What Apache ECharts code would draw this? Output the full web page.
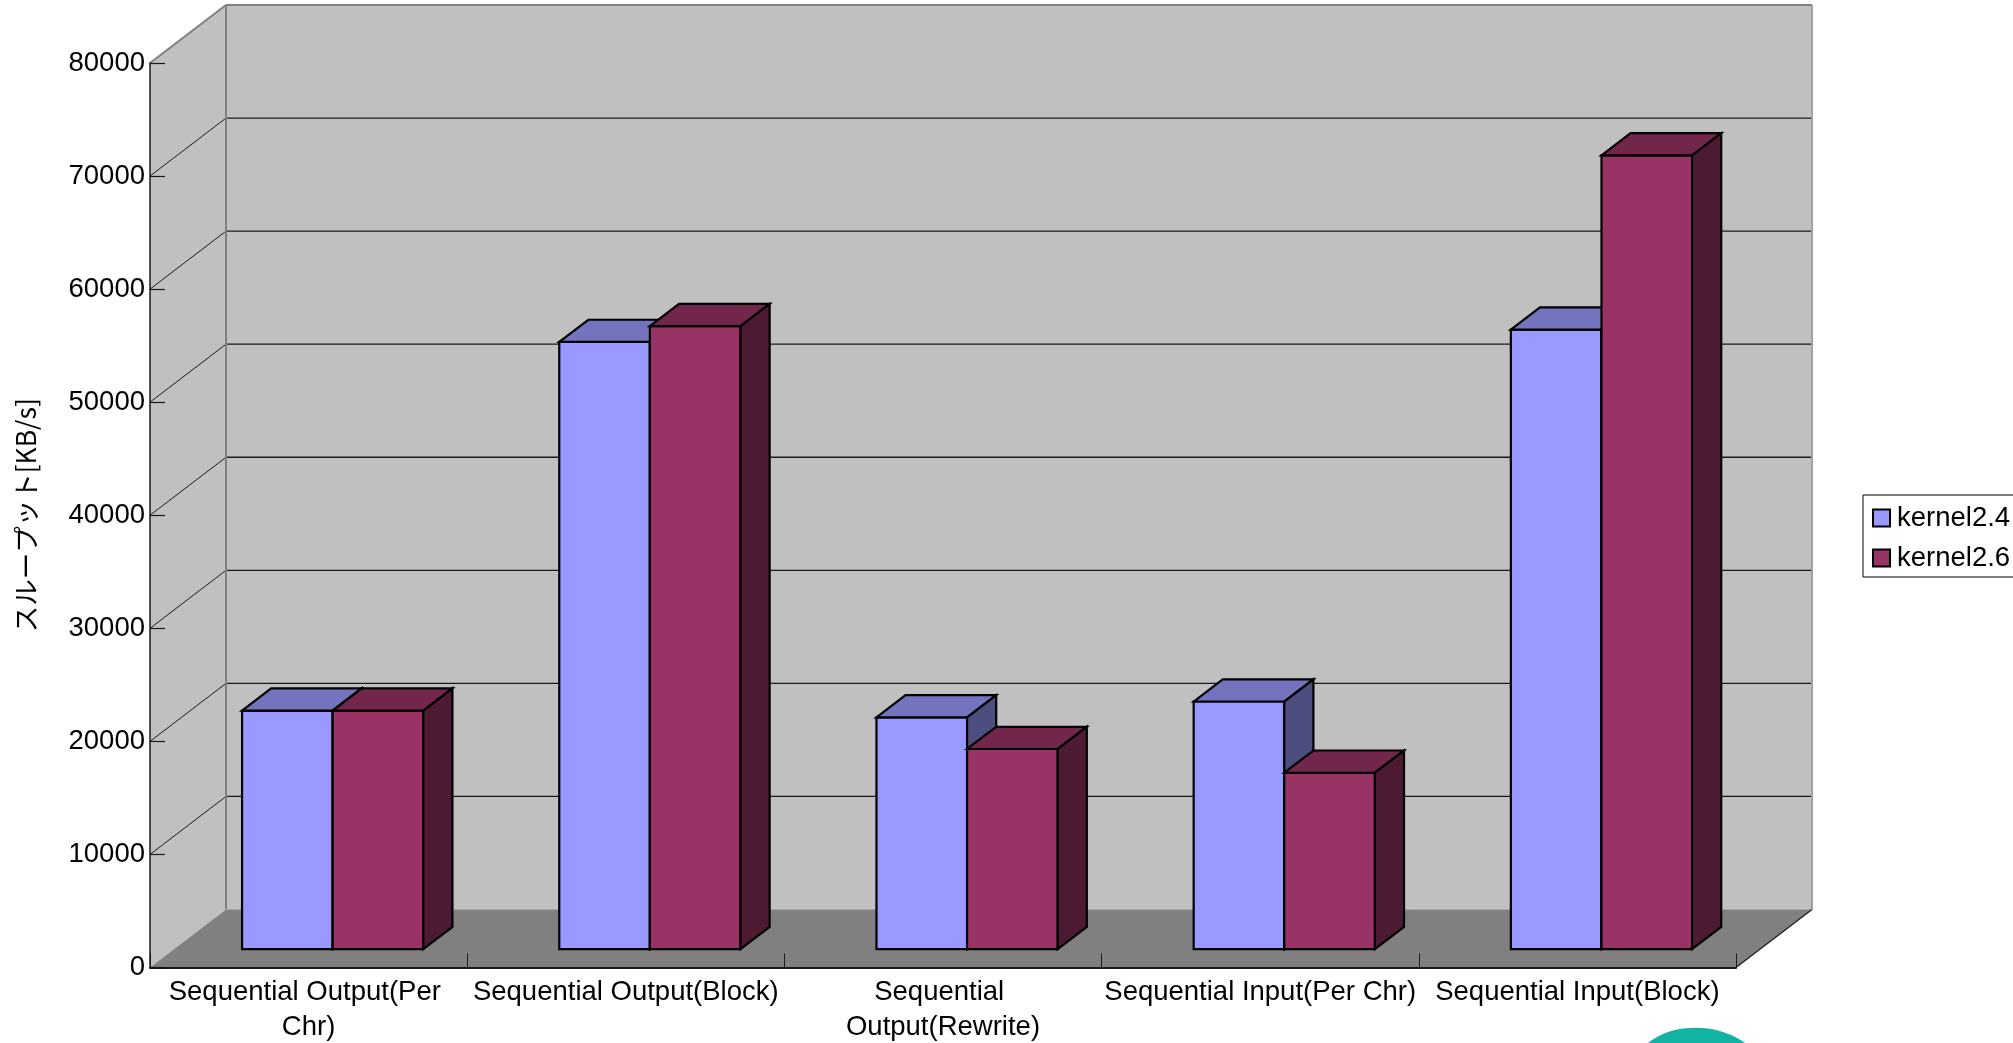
<!DOCTYPE html>
<html>
<head>
<meta charset="utf-8">
<title>スループット比較</title>
<script src="https://cdn.jsdelivr.net/npm/echarts@6/dist/echarts.min.js"></script>
<style>
  html, body { margin: 0; padding: 0; background: #ffffff; }
  #chart { width: 2013px; height: 1043px; }
</style>
</head>
<body>
<div id="chart"></div>
<script>
// Benchmark categories (bonnie++ style tests)
const categories = [
  'Sequential Output(Per Chr)',
  'Sequential Output(Block)',
  'Sequential Output(Rewrite)',
  'Sequential Input(Per Chr)',
  'Sequential Input(Block)'
];

// Throughput in KB/s per kernel
const kernel24 = [21100, 53700, 20500, 21900, 54800];
const kernel26 = [21100, 55100, 17700, 15600, 70200];

const seriesNames = ['kernel2.4', 'kernel2.6'];

// Value axis ticks
const yTicks = [0, 10000, 20000, 30000, 40000, 50000, 60000, 70000, 80000];

// Oblique projection of the box: full depth offset of the back plane
const DEPTH_X = 76;
const DEPTH_Y = -58;
// Front and back of each column as fractions of the full depth
const BAR_FRONT = 0.317;
const BAR_BACK = 0.70;
// Column width as share of a category band (two columns + 150% gap)
const BAR_SHARE = 1 / 3.5;

// Face colours: front, top, side
const palette = [
  { front: '#9999ff', top: '#7474be', side: '#4d4d80' },
  { front: '#993366', top: '#72264b', side: '#4c1a33' }
];

const yMax = yTicks[yTicks.length - 1];

function poly(points, fill, stroke, lw) {
  return {
    type: 'polygon',
    shape: { points: points },
    style: { fill: fill, stroke: stroke || null, lineWidth: lw || 0, lineJoin: 'miter' },
    silent: true
  };
}

function seg(x1, y1, x2, y2, stroke, lw) {
  return {
    type: 'line',
    shape: { x1: x1, y1: y1, x2: x2, y2: y2 },
    style: { stroke: stroke, lineWidth: lw },
    silent: true
  };
}

// Walls, floor and grid lines of the 3D box
function renderWalls(params, api) {
  const cs = params.coordSys;
  const x0 = cs.x, x1 = cs.x + cs.width;
  const yb = api.coord([0, 0])[1];
  const yt = api.coord([0, yMax])[1];
  const dx = DEPTH_X, dy = DEPTH_Y;
  const children = [];
  // left side wall
  children.push(poly([[x0, yb], [x0, yt], [x0 + dx, yt + dy], [x0 + dx, yb + dy]], '#c0c0c0'));
  // back wall
  children.push(poly([[x0 + dx, yt + dy], [x1 + dx, yt + dy], [x1 + dx, yb + dy], [x0 + dx, yb + dy]], '#c0c0c0'));
  // floor
  children.push(poly([[x0, yb], [x1, yb], [x1 + dx, yb + dy], [x0 + dx, yb + dy]], '#808080'));
  // horizontal grid lines on back wall and left wall
  yTicks.forEach(function (v) {
    if (v <= 0 || v >= yMax) return;
    const y = api.coord([0, v])[1];
    children.push(seg(x0 + dx, y + dy, x1 + dx, y + dy, '#1a1a1a', 1.3));
    children.push(seg(x0, y, x0 + dx, y + dy, '#1a1a1a', 1));
  });
  // outer edges of the walls
  children.push(seg(x0, yt, x0 + dx, yt + dy, '#808080', 2));
  children.push(seg(x0 + dx, yt + dy, x1 + dx, yt + dy, '#808080', 2));
  children.push(seg(x0 + dx, yt + dy, x0 + dx, yb + dy, '#808080', 2));
  children.push(seg(x1 + dx, yt + dy, x1 + dx, yb + dy, '#a0a0a0', 2));
  children.push(seg(x0 + dx, yb + dy, x1 + dx, yb + dy, '#a8a8a8', 1));
  children.push(seg(x1, yb, x1 + dx, yb + dy, '#1a1a1a', 1.2));
  return { type: 'group', children: children };
}

// One 3D column: front face, top face and right side face
function makeBarRenderer(seriesIndex) {
  const col = palette[seriesIndex];
  return function (params, api) {
    const ci = api.value(0);
    const v = api.value(1);
    const base = api.coord([ci, 0]);
    const topPt = api.coord([ci, v]);
    const band = api.size([1, 0])[0];
    const bw = band * BAR_SHARE;
    const ox = BAR_FRONT * DEPTH_X, oy = BAR_FRONT * DEPTH_Y;
    const ddx = (BAR_BACK - BAR_FRONT) * DEPTH_X;
    const ddy = (BAR_BACK - BAR_FRONT) * DEPTH_Y;
    const xl = base[0] - bw + seriesIndex * bw + ox;
    const xr = xl + bw;
    const yb = base[1] + oy;
    const yt = topPt[1] + oy;
    const lw = 2.2;
    return {
      type: 'group',
      children: [
        poly([[xl, yb], [xl, yt], [xr, yt], [xr, yb]], col.front, '#000', lw),
        poly([[xl, yt], [xl + ddx, yt + ddy], [xr + ddx, yt + ddy], [xr, yt]], col.top, '#000', lw),
        poly([[xr, yt], [xr + ddx, yt + ddy], [xr + ddx, yb + ddy], [xr, yb]], col.side, '#000', lw)
      ]
    };
  };
}

const chart = echarts.init(document.getElementById('chart'), null, { renderer: 'canvas' });

const labelFont = { fontFamily: '"Liberation Sans", Arial, sans-serif', fontSize: 27.5, color: '#000' };

chart.setOption({
  backgroundColor: '#ffffff',
  animation: false,
  grid: {
    left: 150, top: 63, width: 1586, height: 904.5,
    containLabel: false,
    outerBoundsMode: 'none'
  },
  legend: {
    orient: 'vertical',
    left: 1863,
    top: 495,
    data: seriesNames,
    icon: 'rect',
    itemWidth: 17,
    itemHeight: 17,
    itemGap: 12,
    padding: [9, 60, 5, 9],
    backgroundColor: '#ffffff',
    borderColor: '#000',
    borderWidth: 1,
    borderRadius: 0,
    itemStyle: { borderColor: '#000', borderWidth: 2 },
    textStyle: { fontFamily: '"Liberation Sans", Arial, sans-serif', fontSize: 27.5, color: '#000', padding: [0, 0, 0, 2] },
    selectedMode: false
  },
  xAxis: {
    type: 'category',
    data: categories,
    boundaryGap: true,
    z: 5,
    axisLine: { show: true, lineStyle: { color: '#1a1a1a', width: 2 } },
    axisTick: { show: true, inside: true, length: 14, alignWithLabel: false, interval: 0, lineStyle: { color: '#1a1a1a', width: 1 } },
    axisLabel: Object.assign({
      interval: 0,
      margin: 7,
      lineHeight: 35,
      width: 318,
      overflow: 'break',
      align: 'center'
    }, labelFont),
    splitLine: { show: false }
  },
  yAxis: {
    type: 'value',
    min: 0,
    max: yMax,
    interval: 10000,
    z: 5,
    name: 'スループット[KB/s]',
    nameLocation: 'middle',
    nameRotate: 90,
    nameGap: 111,
    nameTextStyle: { fontFamily: '"Noto Sans CJK JP", "Liberation Sans", sans-serif', fontSize: 26.5, color: '#000' },
    axisLine: { show: true, lineStyle: { color: '#1a1a1a', width: 1.5 } },
    axisTick: { show: true, inside: true, length: 15, lineStyle: { color: '#1a1a1a', width: 1.2 } },
    axisLabel: Object.assign({
      margin: 5,
      formatter: function (v) { return String(v); }
    }, labelFont),
    splitLine: { show: false }
  },
  graphic: [
    {
      type: 'ellipse',
      shape: { cx: 1700, cy: 1078, rx: 68, ry: 50 },
      rotation: -0.12,
      originX: 1700,
      originY: 1078,
      style: { fill: '#13b3a4' },
      silent: true,
      z: 0
    }
  ],
  series: [
    {
      type: 'custom',
      name: 'walls',
      z: 1,
      silent: true,
      clip: false,
      renderItem: renderWalls,
      data: [[0, 0]],
      tooltip: { show: false }
    },
    {
      type: 'custom',
      name: seriesNames[0],
      z: 2,
      clip: false,
      itemStyle: { color: palette[0].front, borderColor: '#000', borderWidth: 2 },
      renderItem: makeBarRenderer(0),
      encode: { x: 0, y: 1 },
      data: kernel24.map(function (v, i) { return [i, v]; })
    },
    {
      type: 'custom',
      name: seriesNames[1],
      z: 3,
      clip: false,
      itemStyle: { color: palette[1].front, borderColor: '#000', borderWidth: 2 },
      renderItem: makeBarRenderer(1),
      encode: { x: 0, y: 1 },
      data: kernel26.map(function (v, i) { return [i, v]; })
    }
  ]
});
</script>
</body>
</html>
